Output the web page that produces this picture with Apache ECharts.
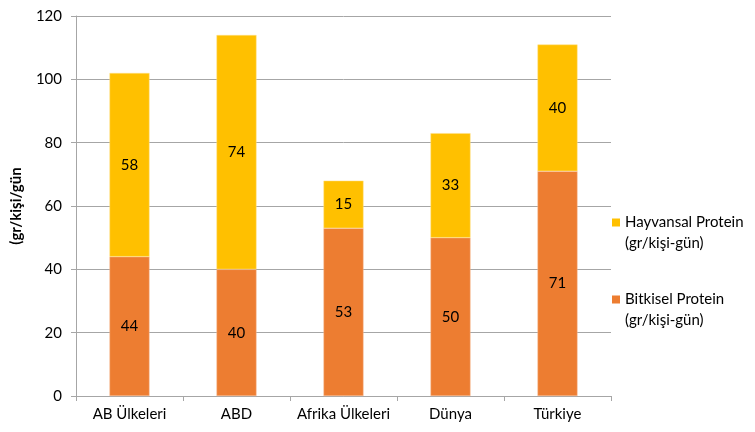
<!DOCTYPE html>
<html style="height: 100%">
<head>
    <meta charset="utf-8">
</head>
<body style="height: 100%; margin: 0">
    <div id="container" style="width: 755px; height: 432px"></div>
    <script type="text/javascript" src="https://cdn.jsdelivr.net/npm/echarts@6/dist/echarts.min.js"></script>
    <script type="text/javascript">
        var categories = ['AB Ülkeleri', 'ABD', 'Afrika Ülkeleri', 'Dünya', 'Türkiye'];
        var bitkisel = [44, 40, 53, 50, 71];
        var hayvansal = [58, 74, 15, 33, 40];
        var yTicks = [0, 20, 40, 60, 80, 100, 120];

        var font = 'Lato, "Open Sans", sans-serif';
        var myChart = echarts.init(document.getElementById('container'));

        var labelStyle = {
            show: true,
            position: 'inside',
            color: '#000',
            fontSize: 15,
            fontFamily: font
        };

        var option = {
            animation: false,
            textStyle: { fontFamily: font },
            grid: { left: 76, right: 144, top: 16, bottom: 36 },
            legend: {
                orient: 'vertical',
                left: 607,
                top: 186,
                itemWidth: 8,
                itemHeight: 8,
                itemGap: 14,
                icon: 'rect',
                itemStyle: { borderWidth: 0 },
                textStyle: { fontSize: 15, color: '#000', lineHeight: 21, fontFamily: font },
                data: ['Hayvansal Protein (gr/kişi-gün)', 'Bitkisel Protein (gr/kişi-gün)'],
                formatter: function (name) {
                    // empty first line keeps the marker level with the name's first line
                    return ' \n' + name.replace(' (', '\n(');
                }
            },
            xAxis: {
                type: 'category',
                data: categories,
                axisLine: { lineStyle: { color: '#A6A6A6' } },
                axisTick: { show: true, length: 5, lineStyle: { color: '#A6A6A6' } },
                axisLabel: { color: '#000', fontSize: 15, margin: 11, interval: 0, fontFamily: font }
            },
            yAxis: {
                type: 'value',
                min: yTicks[0],
                max: yTicks[yTicks.length - 1],
                interval: 20,
                name: '(gr/kişi/gün',
                nameLocation: 'middle',
                nameGap: 52,
                nameRotate: 90,
                nameTextStyle: { fontWeight: 'bold', fontSize: 15, color: '#000', fontFamily: font },
                axisLine: { show: true, lineStyle: { color: '#A6A6A6' } },
                axisTick: { show: true, length: 5, lineStyle: { color: '#A6A6A6' } },
                axisLabel: { color: '#000', fontSize: 15, margin: 14, fontFamily: font },
                splitLine: { lineStyle: { color: '#A6A6A6' } }
            },
            series: [{
                name: 'Bitkisel Protein (gr/kişi-gün)',
                type: 'bar',
                stack: 'p',
                barWidth: 40,
                data: bitkisel,
                itemStyle: { color: '#ED7D31', borderColor: '#F6BE98', borderWidth: 0.5 },
                label: labelStyle
            }, {
                name: 'Hayvansal Protein (gr/kişi-gün)',
                type: 'bar',
                stack: 'p',
                barWidth: 40,
                data: hayvansal,
                itemStyle: { color: '#FFC000', borderColor: '#FFE08A', borderWidth: 0.5 },
                label: labelStyle
            }]
        };

        myChart.setOption(option);
    </script>
</body>
</html>
